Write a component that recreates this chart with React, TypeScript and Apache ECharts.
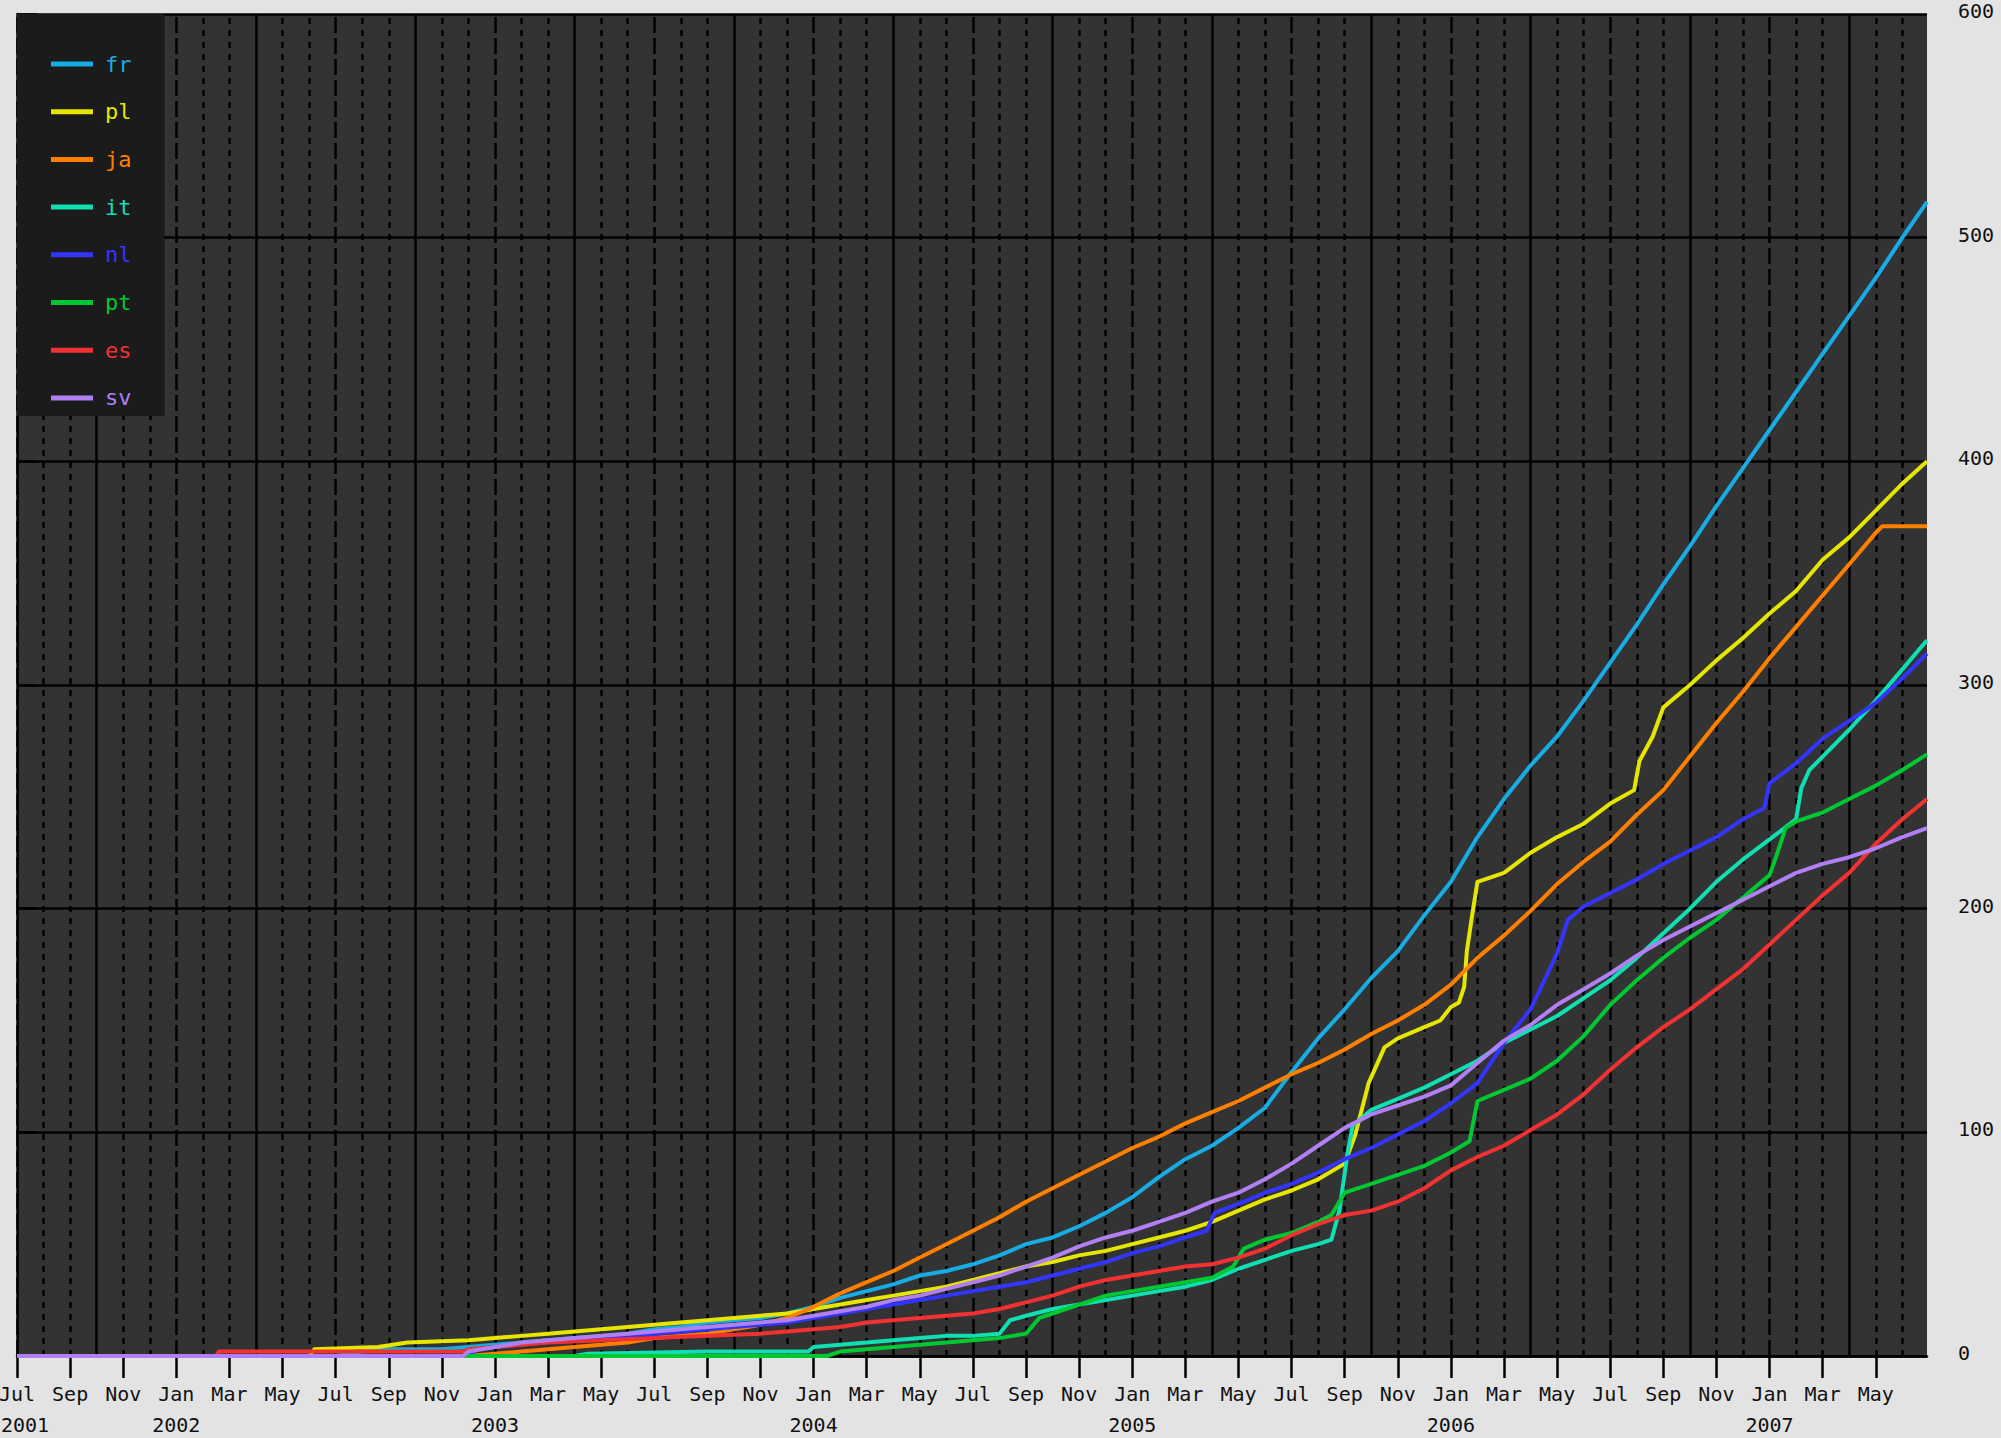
import React, { useEffect, useRef } from "react";
import * as echarts from "echarts";

// x values are months since July 2001 (0 = Jul 2001, 72 = Jul 2007)
const MONTH_NAMES = ["Jan", "Feb", "Mar", "Apr", "May", "Jun", "Jul", "Aug", "Sep", "Oct", "Nov", "Dec"];
const START_YEAR = 2001;
const START_MONTH = 6; // July, 0-based
const X_MAX = 71.93;
const Y_MAX = 600;
const Y_STEP = 100;
const labelMonths = [0, 2, 4, 6, 8, 10, 12, 14, 16, 18, 20, 22, 24, 26, 28, 30, 32, 34, 36, 38, 40, 42, 44, 46, 48, 50, 52, 54, 56, 58, 60, 62, 64, 66, 68, 70];
const gridMonths = [0, 1, 2, 3, 4, 5, 6, 7, 8, 9, 10, 11, 12, 13, 14, 15, 16, 17, 18, 19, 20, 21, 22, 23, 24, 25, 26, 27, 28, 29, 30, 31, 32, 33, 34, 35, 36, 37, 38, 39, 40, 41, 42, 43, 44, 45, 46, 47, 48, 49, 50, 51, 52, 53, 54, 55, 56, 57, 58, 59, 60, 61, 62, 63, 64, 65, 66, 67, 68, 69, 70, 71];

const seriesNames = ["fr", "pl", "ja", "it", "nl", "pt", "es", "sv"];
const seriesColors = ["#18ace4", "#e6e600", "#ff8000", "#10dfb2", "#3434ff", "#00c832", "#f23232", "#b080f4"];

const frData = [[0,0],[12,0],[13,2],[14,3],[16,3],[17,4],[18,5],[19,6],[20,7],[21,8],[22,9],[23,10],[24,12],[25,13],[26,15],[27,16],[28,17],[29,19],[30,22],[31,26],[32,29],[33,32],[34,36],[35,38],[36,41],[37,45],[38,50],[39,53],[40,58],[41,64],[42,71],[43,80],[44,88],[45,94],[46,102],[47,111],[48,127],[49,142],[50,155],[51,169],[52,181],[53,197],[54,212],[55,232],[56,249],[57,264],[58,277],[59,293],[60,310],[61,327],[62,345],[63,362],[64,380],[65,397],[66,414],[67,431],[68,448],[69,465],[70,482],[71,500],[71.93,516]];
const plData = [[0,0],[11,0],[11.2,3],[13.6,4],[14.7,6],[17,7],[18,8],[19,9],[20,10],[21,11],[22,12],[23,13],[24,14],[25,15],[26,16],[27,17],[28,18],[29,19],[30,21],[31,23],[32,25],[33,27],[34,29],[35,31],[36,34],[37,37],[38,40],[39,42],[40,45],[41,47],[42,50],[43,53],[44,56],[45,60],[46,65],[47,70],[48,74],[49,79],[50,86],[50.4,99],[50.9,122],[51.5,138],[52,142],[53,147],[53.6,150],[54,156],[54.3,158],[54.5,165],[54.6,181],[54.8,197],[55,212],[56,216],[57,225],[58,232],[59,238],[60,247],[60.9,253],[61.1,266],[61.6,277],[62,290],[63,300],[64,311],[65,321],[66,332],[67,342],[68,356],[69,366],[70,378],[71,390],[71.93,400]];
const jaData = [[0,0],[17,0],[18,1],[19,2],[20,3],[21,4],[22,5],[23,6],[24,8],[25,9],[26,10],[27,12],[28,14],[29,17],[30,22],[31,28],[32,33],[33,38],[34,44],[35,50],[36,56],[37,62],[38,69],[39,75],[40,81],[41,87],[42,93],[43,98],[44,104],[45,109],[46,114],[47,120],[48,126],[49,131],[50,137],[51,144],[52,150],[53,157],[54,166],[55,178],[56,188],[57,199],[58,211],[59,221],[60,230],[61,242],[62,253],[63,268],[64,283],[65,297],[66,312],[67,326],[68,340],[69,354],[70,368],[70.25,371],[71.93,371]];
const itData = [[0,0],[21,0],[21.5,1],[26,2],[29.8,2],[30,4],[31,5],[32,6],[33,7],[34,8],[35,9],[36,9],[37,10],[37.4,16],[38,18],[39,21],[40,23],[41,25],[42,27],[43,29],[44,31],[45,34],[46,39],[47,43],[48,47],[49,50],[49.5,52],[49.8,65],[50.1,90],[50.3,103],[51,110],[52,115],[53,120],[54,126],[55,132],[56,140],[57,146],[58,152],[59,160],[60,168],[61,178],[62,189],[63,200],[64,212],[65,222],[66,231],[67,240],[67.2,254],[67.5,262],[68,268],[69,280],[70,293],[71,307],[71.93,320]];
const nlData = [[0,0],[17,0],[17.3,3],[18,4],[19,5],[20,7],[22,8],[23,9],[24,10],[25,11],[26,12],[27,13],[28,14],[29,15],[30,17],[31,19],[32,21],[33,23],[34,25],[35,27],[36,29],[37,31],[38,33],[39,36],[40,39],[41,42],[42,46],[43,49],[44,53],[44.8,56],[45.1,64],[46,68],[47,73],[48,77],[49,82],[50,88],[51,93],[52,99],[53,105],[54,113],[55,122],[56,140],[57,155],[58,180],[58.4,195],[59,201],[60,207],[61,213],[62,220],[63,226],[64,232],[65,240],[65.8,245],[66,256],[67,265],[68,276],[69,284],[70,292],[71,303],[71.93,314]];
const ptData = [[0,0],[30.5,0],[31,2],[32,3],[33,4],[34,5],[35,6],[36,7],[37,8],[38,10],[38.5,17],[39,19],[40,23],[41,27],[42,29],[43,31],[44,33],[45,35],[45.8,40],[46.2,48],[47,52],[48,55],[49,60],[49.5,63],[50,73],[51,77],[52,81],[53,85],[54,91],[54.7,96],[55,114],[56,119],[57,124],[58,132],[59,143],[60,157],[61,168],[62,178],[63,187],[64,195],[65,205],[66,215],[66.3,225],[66.6,236],[67,239],[68,243],[69,249],[70,255],[71,262],[71.93,269]];
const esData = [[0,0],[7.5,0],[7.6,2],[16.8,2],[17,3],[18,4],[19,5],[20,6],[22,7],[24,8],[26,9],[28,10],[29,11],[30,12],[31,13],[32,15],[33,16],[34,17],[35,18],[36,19],[37,21],[38,24],[39,27],[40,31],[41,34],[42,36],[43,38],[44,40],[45,41],[46,44],[47,48],[48,54],[49,59],[50,63],[51,65],[52,69],[53,75],[54,83],[55,89],[56,94],[57,101],[58,108],[59,117],[60,128],[61,138],[62,147],[63,155],[64,164],[65,173],[66,184],[67,195],[68,206],[69,216],[70,229],[71,240],[71.93,249]];
const svData = [[0,0],[16.8,0],[17,2],[18,4],[19,6],[20,7],[21,8],[22,9],[23,10],[24,11],[25,12],[26,13],[27,14],[28,15],[29,16],[30,18],[31,20],[32,22],[33,25],[34,27],[35,30],[36,33],[37,36],[38,40],[39,44],[40,49],[41,53],[42,56],[43,60],[44,64],[45,69],[46,73],[47,79],[48,86],[49,94],[50,102],[51,108],[52,112],[53,116],[54,121],[55,131],[56,141],[57,148],[58,157],[59,164],[60,171],[61,179],[62,186],[63,192],[64,198],[65,204],[66,210],[67,216],[68,220],[69,223],[70,227],[71,232],[71.93,236]];

const seriesData = [frData, plData, jaData, itData, nlData, ptData, esData, svData];

const FONT = '"DejaVu Sans Mono", monospace';
const TEXT = "#111111";

function gridStyle(m: number) {
  const cal = (START_MONTH + m) % 12;
  if (cal === 3 || cal === 9) return { color: "#000", width: 2.5, type: "solid" as any };
  if (cal === 0 || cal === 6) return { color: "#000", width: 2.5, type: [16, 5] as any };
  return { color: "#000", width: 2.5, type: [6, 6] as any };
}

function xLabel(v: number) {
  const m = Math.round(v);
  const idx = START_MONTH + m;
  const cal = idx % 12;
  const year = START_YEAR + Math.floor(idx / 12);
  const name = MONTH_NAMES[cal];
  if (m === 0) return "{m|" + name + "}\n{y0|" + year + "}";
  if (cal === 0) return "{m|" + name + "}\n{y|" + year + "}";
  return "{m|" + name + "}";
}

const labelRich = {
  m: { fontFamily: FONT, fontSize: 20, lineHeight: 31, color: TEXT },
  y: { fontFamily: FONT, fontSize: 20, lineHeight: 31, color: TEXT },
  y0: { fontFamily: FONT, fontSize: 20, lineHeight: 31, color: TEXT, padding: [0, 0, 0, 16] },
};

export default function App() {
  const ref = useRef<HTMLDivElement>(null);
  useEffect(() => {
    if (!ref.current) return;
    const chart = echarts.init(ref.current, null, { renderer: "svg" });
    const option: any = {
      animation: false,
      backgroundColor: "#e3e3e3",
      textStyle: { fontFamily: FONT },
      grid: {
        left: 17,
        top: 14,
        width: 1910,
        height: 1342,
        show: true,
        backgroundColor: "#333333",
        borderWidth: 0,
        containLabel: false,
        outerBoundsMode: "none",
      },
      legend: {
        orient: "vertical",
        left: 17,
        top: 14,
        z: 20,
        backgroundColor: "#1b1b1b",
        padding: [39, 33, 7, 34],
        itemGap: 25.7,
        itemWidth: 42,
        itemHeight: 5,
        icon: "rect",
        itemStyle: { borderWidth: 0 },
        selectedMode: false,
        textStyle: { fontFamily: FONT, fontSize: 22, padding: [0, 0, 0, 7] },
        data: seriesNames.map((n, i) => ({
          name: n,
          icon: "rect",
          itemStyle: { color: seriesColors[i], borderWidth: 0 },
          textStyle: { color: seriesColors[i] },
        })),
      },
      xAxis: {
        type: "value",
        min: 0,
        max: X_MAX,
        splitLine: { show: false },
        axisLine: { show: true, lineStyle: { color: "#000", width: 2.5 } },
        axisTick: {
          show: true,
          inside: false,
          length: 22,
          lineStyle: { color: "#000", width: 2.5 },
          customValues: labelMonths,
        },
        axisLabel: {
          customValues: labelMonths,
          formatter: (v: number) => xLabel(v),
          fontFamily: FONT,
          fontSize: 20,
          color: TEXT,
          margin: 22,
          lineHeight: 31,
          rich: labelRich,
        },
      },
      yAxis: {
        type: "value",
        position: "right",
        min: 0,
        max: Y_MAX,
        interval: Y_STEP,
        splitLine: { show: true, lineStyle: { color: "#000", width: 2.5 } },
        axisLine: { show: true, lineStyle: { color: "#000", width: 2.5 } },
        axisTick: { show: true, inside: false, length: 20, lineStyle: { color: "#000", width: 2.5 } },
        axisLabel: {
          fontFamily: FONT,
          fontSize: 20,
          color: TEXT,
          margin: 31,
          verticalAlign: "bottom",
          lineHeight: 6,
        },
      },
      series: [
        {
          type: "line",
          name: "__grid",
          data: [[0, 0]],
          showSymbol: false,
          symbol: "none",
          lineStyle: { opacity: 0 },
          z: 1,
          silent: true,
          legendHoverLink: false,
          markLine: {
            z: 1,
            silent: true,
            symbol: ["none", "none"],
            label: { show: false },
            emphasis: { disabled: true },
            animation: false,
            data: gridMonths.map((m) => ({ xAxis: m, lineStyle: gridStyle(m) })),
          },
        },
        ...seriesNames.map((n, i) => ({
          type: "line",
          name: n,
          data: seriesData[i],
          symbol: "none",
          showSymbol: false,
          legendIcon: "rect",
          color: seriesColors[i],
          lineStyle: { width: 4, color: seriesColors[i], join: "round" },
          z: 3,
          silent: true,
        })),
      ],
    };
    chart.setOption(option);
    return () => chart.dispose();
  }, []);
  return (
    <div
      ref={ref}
      style={{ position: "fixed", left: 0, top: 0, width: 2001, height: 1438 }}
    />
  );
}
